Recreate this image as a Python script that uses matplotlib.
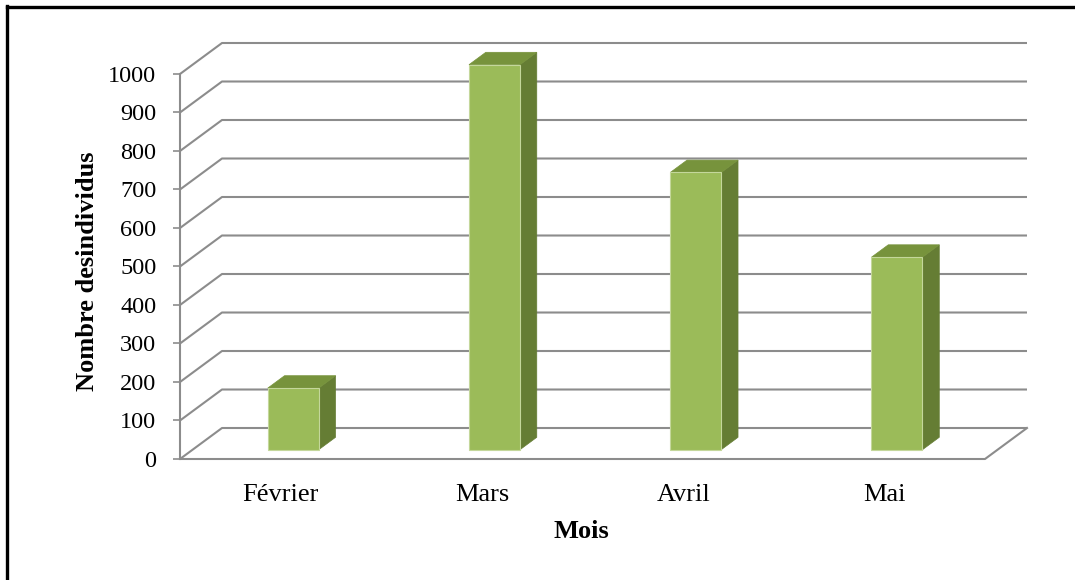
import matplotlib
matplotlib.use("Agg")
import matplotlib.pyplot as plt
from matplotlib.patches import Polygon
from matplotlib.lines import Line2D

# Data
months = ["Février", "Mars", "Avril", "Mai"]
counts = [160, 1000, 720, 500]
y_ticks = list(range(0, 1001, 100))

plt.rcParams["font.family"] = ["Liberation Serif", "DejaVu Serif"]

W, H = 1075, 580
fig = plt.figure(figsize=(W / 100, H / 100), dpi=100)
fig.patch.set_facecolor("white")

# oblique depth of the 3D box, in data units
DX = 0.2087     # along the category axis
DY = 80.5       # along the value axis
YMAX = 1000
n = len(months)

ax = fig.add_axes([180 / W, 1 - 459 / H, (1027 - 180) / W, (459 - 43) / H])
ax.set_xlim(0, n + DX)
ax.set_ylim(0, YMAX + DY)
ax.set_facecolor("none")

grid_c = "#8C8C8C"
grid_lw = 1.5

# back wall gridlines with their diagonal on the side wall
for v in y_ticks:
    ax.plot([0, DX, n + DX], [v, v + DY, v + DY], color=grid_c, lw=grid_lw,
            solid_capstyle="butt", clip_on=False, zorder=1)
# floor front edge and right diagonal
ax.plot([0, n, n + DX], [0, 0, DY], color=grid_c, lw=grid_lw,
        clip_on=False, zorder=1)

# 3D bars
front_c, top_c, side_c = "#9BBB59", "#77933C", "#657D34"
edge_c = "#C4D79B"
bw = 0.2534
d0, d1 = 0.3, 0.7
for i, v in enumerate(counts):
    x0 = i + 0.5 - bw / 2 + d0 * DX
    x1 = x0 + bw
    y0 = d0 * DY
    ox, oy = (d1 - d0) * DX, (d1 - d0) * DY
    top = v + y0
    ax.add_patch(Polygon([(x1, y0), (x1 + ox, y0 + oy), (x1 + ox, top + oy), (x1, top)],
                         closed=True, facecolor=side_c, edgecolor=side_c, lw=0.5, zorder=3))
    ax.add_patch(Polygon([(x0, top), (x1, top), (x1 + ox, top + oy), (x0 + ox, top + oy)],
                         closed=True, facecolor=top_c, edgecolor=top_c, lw=0.5, zorder=3))
    ax.add_patch(Polygon([(x0, y0), (x1, y0), (x1, top), (x0, top)],
                         closed=True, facecolor=front_c, edgecolor=edge_c, lw=0.8, zorder=4))

# axes styling
for s in ["top", "right", "bottom"]:
    ax.spines[s].set_visible(False)
ax.spines["left"].set_color(grid_c)
ax.spines["left"].set_linewidth(grid_lw)
ax.spines["left"].set_bounds(0, YMAX)
ax.set_yticks(y_ticks)
ax.set_yticklabels([str(t) for t in y_ticks])
ax.tick_params(axis="y", direction="out", length=5, width=1.2, color=grid_c,
               labelsize=17.5, pad=12)
ax.set_xticks([i + 0.5 for i in range(n)])
ax.set_xticklabels(months)
ax.tick_params(axis="x", length=0, labelsize=19, pad=18)

fig.text(581 / W, 1 - 531 / H, "Mois", ha="center", va="center",
         fontsize=19, fontweight="bold")
fig.text(88 / W, 1 - 271 / H, "Nombre desindividus", ha="center", va="center",
         rotation=90, fontsize=19, fontweight="bold")

# outer frame
fig.add_artist(Line2D([7 / W, 7 / W], [0, 1 - 5.5 / H], color="black", lw=2.4,
                      transform=fig.transFigure, solid_capstyle="projecting"))
fig.add_artist(Line2D([7 / W, 1], [1 - 6.5 / H, 1 - 6.5 / H], color="black", lw=2.4,
                      transform=fig.transFigure))

fig.savefig("out.png", dpi=100)
